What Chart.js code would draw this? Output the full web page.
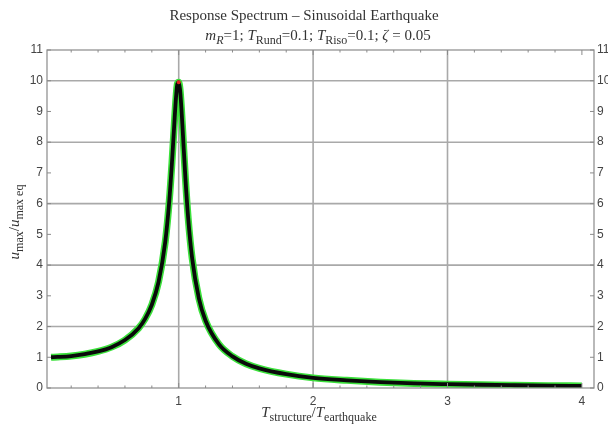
<!DOCTYPE html>
<html>
<head>
<meta charset="utf-8">
<script src="https://cdn.jsdelivr.net/npm/chart.js@4/dist/chart.umd.min.js"></script>
<style>
html,body{margin:0;padding:0;background:#fff;}
#wrap{width:608px;height:431px;position:relative;}
</style>
</head>
<body>
<div id="wrap"><canvas id="c" width="608" height="431"></canvas></div>
<script>
// Data
const ratio = [0.05,0.1,0.2,0.3,0.4,0.5,0.6,0.7,0.75,0.8,0.85,0.9,0.93,0.95,0.97,0.98,0.99,1.0,1.01,1.02,1.03,1.05,1.07,1.1,1.15,1.2,1.3,1.4,1.5,1.6,1.8,2.0,2.25,2.5,2.75,3.0,3.25,3.5,3.75,4.0];
const amplification = [1.00,1.01,1.04,1.10,1.19,1.33,1.56,1.94,2.25,2.71,3.45,4.76,6.10,7.35,8.80,9.46,9.90,9.95,9.71,9.11,8.36,6.82,5.55,4.22,2.92,2.19,1.42,1.03,0.79,0.64,0.45,0.33,0.25,0.19,0.15,0.125,0.105,0.09,0.077,0.067];
const xTicks = [1,2,3,4];
const yTicks = [0,1,2,3,4,5,6,7,8,9,10,11];
const xGrid = [1,2,3];
const yGrid = [2,4,6,8,10];
const titleText = 'Response Spectrum \u2013 Sinusoidal Earthquake';

const points = ratio.map((r,i)=>({x:r,y:amplification[i]}));
const peakIdx = amplification.indexOf(Math.max(...amplification));

const SERIF = '"Liberation Serif","DejaVu Serif",serif';
const SANS = '"Liberation Sans",Arial,sans-serif';
const GRID = '#a9a9a9';
const FRAME = '#8a8a8a';

function drawRich(ctx, parts, x, y, size, align, color, subRatio){
  ctx.save();
  ctx.fillStyle = color;
  ctx.textBaseline = 'alphabetic';
  ctx.textAlign = 'left';
  const subSize = Math.round(size*(subRatio||0.75));
  const fontOf = p => (p.italic?'italic ':'') + (p.sub?subSize:size) + 'px ' + SERIF;
  let w = 0;
  parts.forEach(p=>{ctx.font=fontOf(p); p.w = ctx.measureText(p.t).width; w += p.w;});
  let cx = align==='center' ? x - w/2 : x;
  parts.forEach(p=>{
    ctx.font = fontOf(p);
    ctx.fillText(p.t, cx, y + (p.sub ? size*0.28 : 0));
    cx += p.w;
  });
  ctx.restore();
}

const decor = {
  id:'decor',
  beforeDatasetsDraw(chart){
    const ctx = chart.ctx, a = chart.chartArea;
    const xs = chart.scales.x, ys = chart.scales.y;
    ctx.save();
    ctx.strokeStyle = GRID; ctx.lineWidth = 1.6;
    ctx.beginPath();
    xGrid.forEach(v=>{const px = xs.getPixelForValue(v); ctx.moveTo(px,a.top); ctx.lineTo(px,a.bottom);});
    yGrid.forEach(v=>{const py = ys.getPixelForValue(v); ctx.moveTo(a.left,py); ctx.lineTo(a.right,py);});
    ctx.stroke();
    ctx.restore();
  },
  afterDraw(chart){
    const ctx = chart.ctx, a = chart.chartArea;
    const xs = chart.scales.x, ys = chart.scales.y;
    ctx.save();
    // frame
    ctx.strokeStyle = FRAME; ctx.lineWidth = 1.2;
    ctx.strokeRect(a.left, a.top, a.right-a.left, a.bottom-a.top);
    // inner ticks
    ctx.lineWidth = 1;
    ctx.beginPath();
    yTicks.forEach(v=>{
      const py = ys.getPixelForValue(v);
      ctx.moveTo(a.left, py); ctx.lineTo(a.left+4, py);
      ctx.moveTo(a.right, py); ctx.lineTo(a.right-4, py);
    });
    for(let k=1;k<=20;k++){
      const v = k*0.2;
      const px = xs.getPixelForValue(v);
      const len = (k%5===0)?5:2.5;
      ctx.moveTo(px, a.bottom); ctx.lineTo(px, a.bottom-len);
      ctx.moveTo(px, a.top); ctx.lineTo(px, a.top+len);
    }
    ctx.stroke();
    ctx.restore();

    // subtitle
    drawRich(ctx,[
      {t:'m',italic:true},{t:'R',italic:true,sub:true},{t:'=1; '},
      {t:'T',italic:true},{t:'Rund',sub:true},{t:'=0.1; '},
      {t:'T',italic:true},{t:'Riso',sub:true},{t:'=0.1; '},
      {t:'\u03B6',italic:true},{t:' = 0.05'}
    ], 318, 40, 15, 'center', '#333', 0.78);

    // x label
    drawRich(ctx,[
      {t:'T',italic:true},{t:'structure',sub:true},{t:'/'},
      {t:'T',italic:true},{t:'earthquake',sub:true}
    ], 319, 417, 15, 'center', '#333', 0.78);

    // y label (rotated)
    ctx.save();
    ctx.translate(19, 222);
    ctx.rotate(-Math.PI/2);
    drawRich(ctx,[
      {t:'u',italic:true},{t:'max',sub:true},{t:'/'},
      {t:'u',italic:true},{t:'max eq',sub:true}
    ], 0, 0, 15, 'center', '#333', 0.78);
    ctx.restore();
  }
};

new Chart(document.getElementById('c'), {
  type:'line',
  data:{
    datasets:[
      {
        label:'peak',
        data:[points[peakIdx]],
        showLine:false,
        pointRadius:2,
        pointBackgroundColor:'#e02020',
        pointBorderWidth:0,
        order:0
      },
      {
        label:'response',
        data:points,
        borderColor:'#0a0a0a',
        borderWidth:3.8,
        pointRadius:0,
        cubicInterpolationMode:'monotone',
        borderCapStyle:'butt',
        order:1
      },
      {
        label:'halo',
        data:points,
        borderColor:'#3be03b',
        borderWidth:7,
        pointRadius:0,
        cubicInterpolationMode:'monotone',
        borderCapStyle:'butt',
        order:2
      }
    ]
  },
  options:{
    responsive:false,
    animation:false,
    events:[],
    layout:{padding:{left:0,right:0,top:0,bottom:0}},
    plugins:{
      legend:{display:false},
      tooltip:{enabled:false},
      title:{
        display:true,
        text:titleText,
        color:'#333',
        font:{family:SERIF,size:15,weight:'normal',lineHeight:1.2},
        padding:{top:7,bottom:25}
      }
    },
    scales:{
      x:{
        type:'linear',
        min:0.02, max:4.09,
        afterBuildTicks:s=>{ s.ticks = xTicks.map(v=>({value:v})); },
        afterFit:s=>{ s.height = 43; },
        grid:{display:false, drawTicks:false},
        border:{display:false},
        ticks:{color:'#444', font:{family:SANS,size:12}, padding:6}
      },
      y:{
        type:'linear',
        position:'left',
        min:0, max:11,
        afterBuildTicks:s=>{ s.ticks = yTicks.map(v=>({value:v})); },
        afterFit:s=>{ s.width = 47; },
        grid:{display:false, drawTicks:false},
        border:{display:false},
        ticks:{color:'#444', font:{family:SANS,size:12}, padding:4}
      },
      y2:{
        type:'linear',
        position:'right',
        min:0, max:11,
        afterBuildTicks:s=>{ s.ticks = yTicks.map(v=>({value:v})); },
        afterFit:s=>{ s.width = 14; },
        grid:{display:false, drawTicks:false},
        border:{display:false},
        ticks:{color:'#444', font:{family:SANS,size:12}, padding:3}
      }
    }
  },
  plugins:[decor]
});
</script>
</body>
</html>
